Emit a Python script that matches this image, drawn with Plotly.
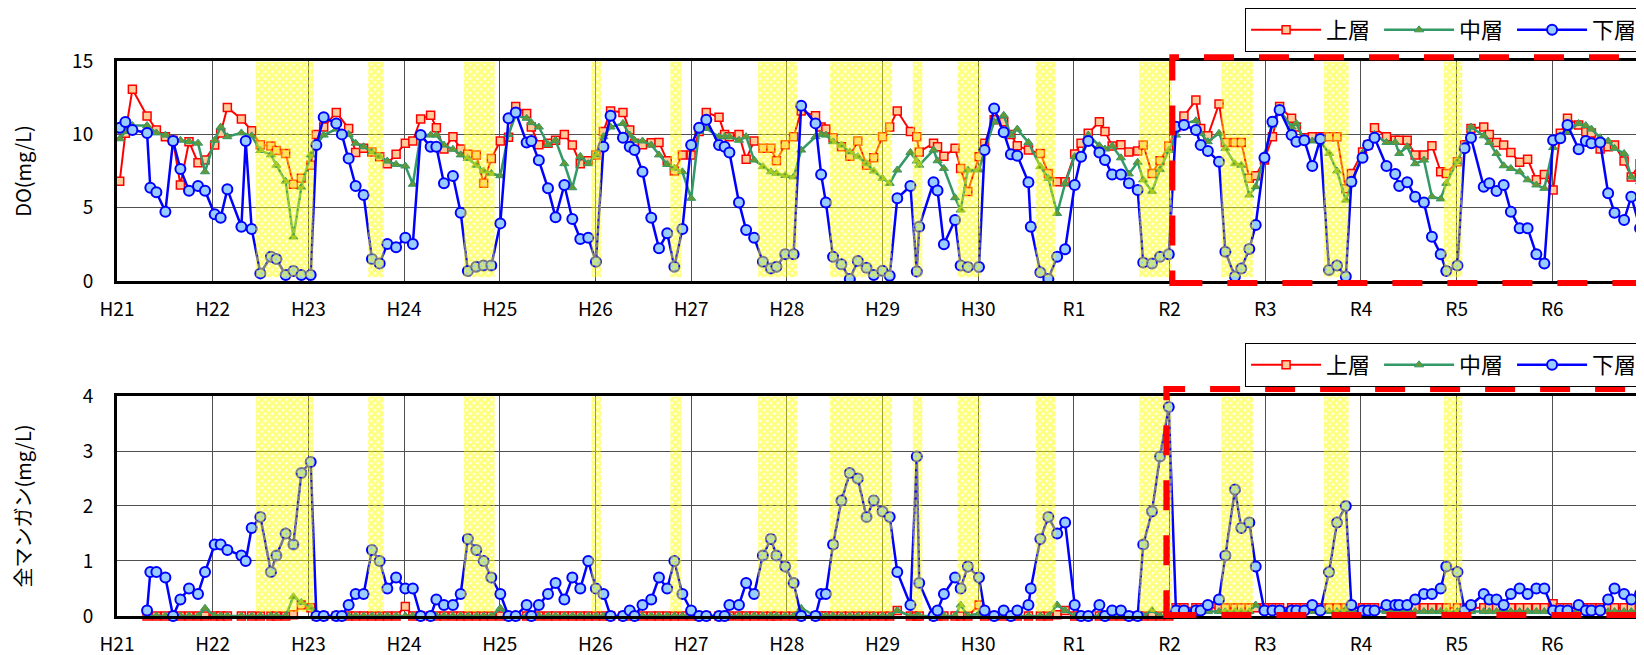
import plotly.graph_objects as go

# sampling dates: months elapsed since January of H21 (2009)
months = [
    0.34, 1.05, 1.93, 3.77, 4.18, 4.94, 6.07, 7.03, 7.95, 9.03, 10.16, 11.04,
    12.25, 13.0, 13.84, 15.6, 16.14, 16.89, 17.98, 19.31, 19.99, 21.15, 22.12, 23.12,
    24.29, 25.0, 25.92, 27.5, 28.2, 29.05, 29.93, 30.93, 31.97, 32.94, 33.9, 35.0,
    36.16, 37.1, 38.08, 39.33, 40.05, 41.0, 42.13, 43.1, 44.0, 45.06, 45.98, 46.94,
    48.07, 49.1, 50.0, 51.37, 51.96, 52.9, 54.05, 55.0, 56.1, 57.1, 58.1, 59.1,
    60.06, 61.0, 61.9, 63.45, 64.3, 64.9, 65.9, 67.0, 67.97, 69.0, 69.9, 70.9,
    72.0, 73.0, 73.9, 75.5, 76.2, 76.8, 78.0, 78.9, 79.9, 81.0, 82.0, 82.7,
    83.8, 84.85, 85.8, 87.6, 88.3, 88.9, 89.8, 90.85, 91.9, 92.9, 94.0, 94.9,
    96.0, 96.9, 97.85, 99.5, 100.3, 100.6, 102.4, 102.9, 103.7, 105.1, 105.8, 106.7,
    108.1, 108.8, 110.0, 111.2, 112.1, 112.9, 114.3, 114.6, 115.8, 116.8, 117.9, 118.9,
    120.1, 120.9, 121.8, 123.2, 123.9, 124.8, 125.9, 126.9, 128.0, 128.7, 129.8, 130.8, 131.9,
    132.8, 133.8, 135.3, 135.9, 136.8, 138.2, 139.0, 140.2, 140.99, 142.0, 142.8, 143.9,
    144.9, 145.8, 147.3, 147.9, 148.9, 149.9, 150.9, 152.0, 153.0, 154.1, 154.8,
    156.2, 156.9, 157.7, 159.2, 160.3, 160.8, 161.8, 162.8, 163.9, 164.9, 166.0, 166.7, 168.1,
    169.0, 169.8, 171.4, 172.1, 173.0, 173.9, 174.8, 175.9, 176.9, 178.0, 179.0,
    180.1, 181.0, 181.9, 183.3, 184.2, 184.9, 186.0, 187.0, 187.8, 189.0, 189.9, 191.0,
]

do_upper = [
    6.8, 10.07, 13.07, 11.25, None, 10.3, 9.84, 9.6, 6.55, 9.5, 8.07, 8.25,
    9.27, 10.1, 11.84, 11.05, None, 10.25, 9.3, 9.2, 8.9, 8.7, 6.6, 7.0,
    7.9, 10.0, 10.5, 11.5, None, 10.4, 8.77, 9.05, 8.8, 8.48, 8.0, 8.64,
    9.4, 9.55, 11.05, 11.3, 10.45, 9.0, 9.84, 9.0, 8.64, 8.6, 6.66, 8.36,
    9.55, 9.8, 11.9, 11.43, 10.5, 9.3, 9.4, 9.6, 10.0, 9.27, 8.0, 8.2,
    8.6, 10.2, 11.6, 11.5, 10.3, 9.4, 9.3, 9.43, 9.45, 8.2, 7.5, 8.6,
    8.6, 10.2, 11.5, 11.16, 10.0, 9.84, 10.0, 8.3, 9.55, 9.05, 9.05, 8.2,
    9.3, 9.84, 11.6, 11.27, 10.5, 10.36, 9.77, 9.16, 8.5, 9.55, 7.9, 8.4,
    9.84, 10.5, 11.6, 10.2, 9.84, 8.8, 9.4, 9.16, 8.5, 9.05, 7.68, 6.1,
    8.48, 9.4, 11.0, 10.86, 10.0, 9.23, 8.93, None, 8.7, 7.34, 6.77, 6.77,
    8.66, 9.4, 10.07, 10.86, 10.2, 9.2, 9.3, 8.8, 8.86, 9.27, 7.34, 8.2, 9.2,
    10.5, 11.25, 12.34, 10.4, 9.9, 12.07, 9.45, 9.45, 9.45, 7.0, 7.18, 8.25,
    9.84, 11.9, 11.1, 10.5, 9.77, 9.84, 9.84, 9.84, 9.84, 6.3, 7.34,
    8.8, 9.3, 10.45, 9.84, 9.6, 9.6, 9.6, 8.6, 8.6, 9.23, 7.45, 7.34, 8.14,
    9.3, 10.4, 10.5, 10.0, 9.45, 9.27, 8.77, 8.1, 8.3, 6.9, 7.27,
    6.2, 10.07, 11.1, 10.64, 10.18, 10.1, 9.0, 9.16, 9.27, 8.18, 7.1, 8.0,
]

do_middle = [
    9.7, 10.2, 10.6, 10.6, None, 10.1, 9.95, 9.6, 9.6, 9.5, 9.4, 7.45,
    9.6, 10.5, 9.84, 10.1, None, 9.9, 8.9, 8.6, 7.9, 6.8, 3.0, 6.4,
    8.6, 9.3, 9.95, 10.36, None, 10.0, 9.4, 9.16, 8.8, 8.48, 8.18, 7.95,
    7.84, 6.6, 9.95, 9.95, 9.95, 9.27, 8.98, 8.6, 8.36, 7.9, 7.5, 7.34,
    7.18, 10.0, 11.3, 11.1, 10.8, 10.5, 9.3, 9.6, 8.0, 6.36, 8.5, 8.0,
    8.6, 9.84, 10.5, 10.75, 9.95, 9.6, 9.55, 9.27, 8.6, 7.95, 7.7, 7.45,
    5.64, 10.2, 10.4, 9.84, 9.84, 9.84, 9.6, 9.84, 8.25, 7.8, 7.45, 7.34,
    7.2, 7.1, 8.93, 9.84, 10.0, 9.95, 9.5, 9.27, 8.8, 8.48, 8.0, 7.5,
    7.0, 6.66, 7.57, 8.77, 8.18, 7.9, 8.93, 8.2, 7.68, 5.68, 4.84, 7.57,
    7.57, 8.9, 10.86, 11.3, 9.95, 10.36, 9.45, None, 7.8, 7.0, 4.6, 6.66,
    8.48, 8.48, 9.95, 9.23, 9.0, 9.2, 8.4, 7.3, 8.1, 6.9, 6.1, 7.6, 8.9,
    9.95, 10.75, 10.93, 10.07, 9.5, 10.07, 9.05, 8.0, 7.9, 5.86, 6.43, 8.6,
    10.64, 11.66, 10.5, 10.75, 9.6, 9.55, 9.55, 8.7, 7.5, 5.52, 6.6,
    8.7, 9.27, 10.0, 9.45, 9.45, 8.7, 9.16, 8.0, 8.25, 5.75, 5.6, 6.66, 8.14,
    9.2, 10.5, 9.9, 9.45, 8.7, 7.86, 7.68, 7.45, 6.9, 6.55, 6.32,
    9.1, 9.9, 10.2, 10.75, 10.6, 10.36, 9.77, 9.55, 9.05, 8.7, 7.1, 6.77,
]

do_lower = [
    10.45, 10.85, 10.3, 10.1, 6.36, 6.05, 4.73, 9.55, 7.64, 6.16, 6.48, 6.16,
    4.55, 4.32, 6.25, 3.7, 9.55, 3.55, 0.52, 1.66, 1.5, 0.41, 0.68, 0.41,
    0.41, 9.27, 11.16, 10.75, 10.0, 8.36, 6.48, 5.86, 1.5, 1.2, 2.52, 2.3,
    2.95, 2.52, 9.95, 9.16, 9.16, 6.66, 7.16, 4.66, 0.68, 0.98, 1.05, 1.05,
    3.93, 11.1, 11.5, 9.45, 9.55, 8.23, 6.32, 4.34, 6.55, 4.23, 2.86, 2.95,
    1.32, 9.16, 11.27, 9.77, 9.16, 8.93, 7.45, 4.32, 2.23, 3.25, 0.98, 3.55,
    9.27, 10.45, 11.0, 9.27, 9.16, 8.77, 5.36, 3.48, 2.95, 1.32, 0.86, 0.98,
    1.82, 1.82, 11.95, 10.75, 7.27, 5.36, 1.66, 1.14, 0.14, 1.36, 0.9, 0.41,
    0.7, 0.36, 5.64, 6.48, 0.64, 3.7, 6.73, 6.18, 2.5, 4.16, 1.05, 0.95,
    0.95, 8.93, 11.77, 10.14, 8.64, 8.55, 6.73, 3.7, 0.6, 0.14, 1.66, 2.16,
    6.55, 8.48, 9.55, 8.77, 8.25, 7.27, 7.27, 6.66, 6.2, 1.27, 1.2, 1.66, 1.82,
    10.52, 10.64, 10.3, 9.27, 8.86, 8.14, 2.0, 0.3, 0.86, 2.18, 3.82, 8.4,
    10.86, 11.66, 9.95, 9.5, 9.6, 7.84, 9.68, 0.75, 1.05, 0.3, 6.77,
    8.4, 9.27, 9.77, 7.84, 7.3, 6.48, 6.73, 5.75, 5.36, 3.02, 1.82, 0.68, 1.05,
    9.05, 9.77, 6.43, 6.66, 6.14, 6.55, 4.73, 3.6, 3.6, 1.82, 1.2,
    9.6, 9.73, 10.64, 8.98, 9.55, 9.4, 9.45, 5.98, 4.66, 4.16, 5.75, 3.6,
]

mn_upper = [
    None, None, None, 0, None, 0, 0, 0, 0, 0, 0, 0,
    0, 0, 0, 0, None, 0, 0, 0, 0, 0, 0.02, 0.2,
    0.15, 0, 0, 0, None, 0, 0, 0, 0, 0, 0, 0,
    0.17, 0, 0, 0, 0, 0, 0, 0, 0, 0, 0, 0,
    0, 0, 0, 0, 0, 0, 0, 0, 0, 0, 0, 0,
    0, 0, 0, 0, 0, 0, 0, 0, 0, 0, 0, 0,
    0, 0, 0, 0, 0, 0, 0, 0, 0, 0, 0, 0,
    0, 0, 0, 0, 0, 0, 0, 0, 0, 0, 0, 0,
    0, 0, 0.1, 0, 0, 0, 0, 0, 0, 0, 0, 0,
    0.2, 0, 0, 0, 0, 0, 0, None, 0, 0, 0.02, 0.1,
    0, 0, 0, 0, 0, 0, 0, 0, 0, 0, 0, 0, 0,
    0.15, 0.15, 0.15, 0.15, 0.15, 0.15, 0.15, 0.15, 0.15, 0.15, 0.15, 0.15,
    0.15, 0.15, 0.15, 0.15, 0.15, 0.15, 0.15, 0.15, 0.15, 0.15, 0.15,
    0.15, 0.15, 0.15, 0.15, 0.15, 0.15, 0.15, 0.15, 0.15, 0.15, 0.15, 0.15, 0.15,
    0.15, 0.15, 0.15, 0.15, 0.15, 0.15, 0.15, 0.15, 0.15, 0.15, 0.15,
    0.22, 0.15, 0.15, 0.15, 0.15, 0.15, 0.15, 0.15, 0.15, 0.15, 0.15, 0.15,
]

mn_middle = [
    None, None, None, 0, None, 0, 0, 0, 0, 0, 0, 0.14,
    0, 0, 0, 0, None, 0, 0, 0, 0, 0, 0.35, 0.25,
    0.15, 0, 0, 0, None, 0, 0, 0, 0, 0, 0, 0,
    0, 0, 0, 0, 0, 0, 0, 0, 0, 0, 0, 0,
    0.14, 0, 0, 0, 0, 0, 0, 0, 0, 0, 0, 0,
    0, 0, 0, 0, 0, 0, 0, 0, 0, 0, 0, 0,
    0, 0, 0, 0, 0, 0, 0, 0, 0, 0, 0, 0,
    0, 0, 0.14, 0, 0, 0, 0, 0, 0, 0, 0, 0,
    0, 0, 0.1, 0, 0, 0, 0, 0, 0, 0, 0.2, 0,
    0.05, 0, 0, 0, 0, 0, 0, None, 0, 0, 0.2, 0.1,
    0, 0, 0, 0, 0, 0, 0, 0, 0, 0, 0.1, 0, 0,
    0.08, 0.08, 0.08, 0.08, 0.08, 0.08, 0.08, 0.08, 0.08, 0.08, 0.2, 0.08,
    0.08, 0.08, 0.08, 0.08, 0.08, 0.08, 0.08, 0.08, 0.08, 0.12, 0.08,
    0.08, 0.08, 0.08, 0.08, 0.08, 0.08, 0.08, 0.08, 0.08, 0.08, 0.08, 0.08, 0.08,
    0.08, 0.08, 0.08, 0.08, 0.08, 0.08, 0.08, 0.08, 0.08, 0.08, 0.08,
    0.08, 0.08, 0.08, 0.08, 0.08, 0.08, 0.08, 0.08, 0.08, 0.08, 0.08, 0.08,
]

mn_lower = [
    None, None, None, 0.1, 0.8, 0.8, 0.7, 0.0, 0.3, 0.5, 0.4, 0.8,
    1.3, 1.3, 1.2, 1.1, 1.0, 1.6, 1.8, 0.8, 1.1, 1.5, 1.3, 2.6,
    2.8, 0, 0, 0, 0, 0.2, 0.4, 0.4, 1.2, 1.0, 0.5, 0.7,
    0.5, 0.5, 0, 0, 0.3, 0.2, 0.2, 0.4, 1.4, 1.2, 1.0, 0.7,
    0.4, 0, 0, 0.2, 0, 0.2, 0.4, 0.6, 0.3, 0.7, 0.5, 1.0,
    0.5, 0.4, 0, 0, 0.1, 0, 0.2, 0.3, 0.7, 0.5, 1.0, 0.4,
    0.1, 0, 0, 0, 0, 0.2, 0.2, 0.6, 0.4, 1.1, 1.4, 1.1,
    0.9, 0.6, 0, 0, 0.4, 0.4, 1.3, 2.1, 2.6, 2.5, 1.8, 2.1,
    1.9, 1.8, 0.8, 0.2, 2.9, 0.6, 0, 0.1, 0.4, 0.7, 0.5, 0.9,
    0.7, 0.1, 0, 0.1, 0, 0.1, 0.2, 0.5, 1.4, 1.8, 1.5, 1.7,
    0.2, 0, 0, 0.2, 0, 0.1, 0.1, 0, 0, 1.3, 1.9, 2.9, 3.8,
    0.1, 0.1, 0.1, 0.1, 0.2, 0.3, 1.1, 2.3, 1.6, 1.7, 0.9, 0.1,
    0.1, 0.1, 0.1, 0.1, 0.1, 0.2, 0.1, 0.8, 1.7, 2.0, 0.2,
    0.1, 0.1, 0.1, 0.2, 0.2, 0.2, 0.2, 0.3, 0.4, 0.4, 0.5, 0.9, 0.8,
    0.1, 0.2, 0.4, 0.3, 0.3, 0.2, 0.4, 0.5, 0.4, 0.5, 0.5,
    0.1, 0.1, 0.1, 0.2, 0.1, 0.1, 0.1, 0.3, 0.5, 0.4, 0.3, 0.4,
]

# shaded periods (months since Jan H21)
band_start = [17.4, 31.5, 43.5, 59.5, 69.4, 80.4, 89.4, 99.8, 105.4, 115.2, 128.2, 138.5, 151.35, 166.4]
band_end = [24.65, 33.45, 47.36, 60.7, 70.77, 85.3, 97.2, 101.0, 108.3, 117.7, 132.3, 142.45, 154.45, 168.7]

year_ticks = [0, 12, 24, 36, 48, 60, 72, 84, 96, 108, 120, 132, 144, 156, 168, 180]
year_labels = ["H21", "H22", "H23", "H24", "H25", "H26", "H27", "H28", "H29", "H30",
               "R1", "R2", "R3", "R4", "R5", "R6"]

series_names = ["上層", "中層", "下層"]
highlight_start_do = 132.35
highlight_start_mn = 131.6

FONT = "Noto Sans CJK JP"
styles = [
    dict(line=dict(color="#FF0000", width=2),
         marker=dict(symbol="square", size=8, color="#FFCC99", line=dict(color="#FF0000", width=1.5))),
    dict(line=dict(color="#339966", width=2.5),
         marker=dict(symbol="triangle-up", size=8, color="#669933", line=dict(color="#339966", width=1))),
    dict(line=dict(color="#0000FF", width=2.5),
         marker=dict(symbol="circle", size=10, color="#99CCFF", line=dict(color="#0000FF", width=2))),
]

fig = go.Figure()

for name, vals, st in zip(series_names, [do_upper, do_middle, do_lower], styles):
    fig.add_trace(go.Scatter(x=months, y=vals, name=name, mode="lines+markers",
                             connectgaps=True, xaxis="x", yaxis="y", legend="legend",
                             line=st["line"], marker=st["marker"]))
for name, vals, st in zip(series_names, [mn_upper, mn_middle, mn_lower], styles):
    fig.add_trace(go.Scatter(x=months, y=vals, name=name, mode="lines+markers",
                             connectgaps=True, xaxis="x2", yaxis="y2", legend="legend2",
                             cliponaxis=False, line=st["line"], marker=st["marker"]))


def band_trace(lo, hi, xa, ya):
    bx, by = [], []
    for s, e in zip(band_start, band_end):
        bx += [s, s, e, e, s, None]
        by += [lo, hi, hi, lo, lo, None]
    return go.Scatter(x=bx, y=by, mode="none", fill="toself", fillcolor="rgba(0,0,0,0)",
                      fillpattern=dict(shape="x", fgcolor="#FFFF00", bgcolor="rgba(0,0,0,0)",
                                       size=5, solidity=0.8),
                      xaxis=xa, yaxis=ya, showlegend=False, hoverinfo="skip")


fig.add_trace(band_trace(0.25, 14.95, "x", "y"))
fig.add_trace(band_trace(0.07, 3.99, "x2", "y2"))

xcommon = dict(range=[0, 192.5], tickvals=year_ticks, ticktext=year_labels,
               showgrid=True, gridcolor="#505050", gridwidth=1,
               showline=True, linecolor="black", linewidth=3, mirror=True,
               ticks="", ticklabelstandoff=9, zeroline=False, automargin=False,
               tickfont=dict(family=FONT, size=19, color="black"), domain=[0, 1])

legend_common = dict(orientation="h", xanchor="left", yanchor="top",
                     bordercolor="black", borderwidth=1, bgcolor="white",
                     font=dict(family=FONT, size=22), itemwidth=70,
                     entrywidth=48, entrywidthmode="pixels")

fig.update_layout(
    width=1644, height=655,
    margin=dict(l=109, r=0, t=0, b=0, autoexpand=False),
    plot_bgcolor="white", paper_bgcolor="white",
    font=dict(family=FONT, color="black"),
    xaxis=dict(anchor="y", **xcommon),
    xaxis2=dict(anchor="y2", **xcommon),
    yaxis=dict(domain=[0.5832, 0.919], range=[0, 15], tickvals=[0, 5, 10, 15],
               showgrid=True, gridcolor="#505050", gridwidth=1, zeroline=False,
               showline=True, linecolor="black", linewidth=3, ticks="", ticklabelstandoff=17,
               automargin=False, tickfont=dict(family=FONT, size=19, color="black"),
               title=dict(text="DO(mg/L)", font=dict(family=FONT, size=20), standoff=40)),
    yaxis2=dict(domain=[0.0718, 0.4076], range=[0, 4], tickvals=[0, 1, 2, 3, 4],
                showgrid=True, gridcolor="#505050", gridwidth=1, zeroline=False,
                showline=True, linecolor="black", linewidth=3, ticks="", ticklabelstandoff=17,
                automargin=False, tickfont=dict(family=FONT, size=19, color="black"),
                title=dict(text="全マンガン(mg/L)", font=dict(family=FONT, size=20), standoff=50)),
    legend=dict(x=0.7349, y=1.0, **legend_common),
    legend2=dict(x=0.7349, y=0.4885, **legend_common),
    shapes=[
        dict(type="rect", xref="x", yref="paper", x0=highlight_start_do, x1=260,
             y0=0.5802, y1=0.925, line=dict(color="#FF0000", width=6, dash="30px,25px"),
             layer="above"),
        dict(type="rect", xref="x2", yref="paper", x0=highlight_start_mn, x1=260,
             y0=0.0733, y1=0.4183, line=dict(color="#FF0000", width=6, dash="30px,25px"),
             layer="above"),
    ],
)

fig.write_html("out.html")
